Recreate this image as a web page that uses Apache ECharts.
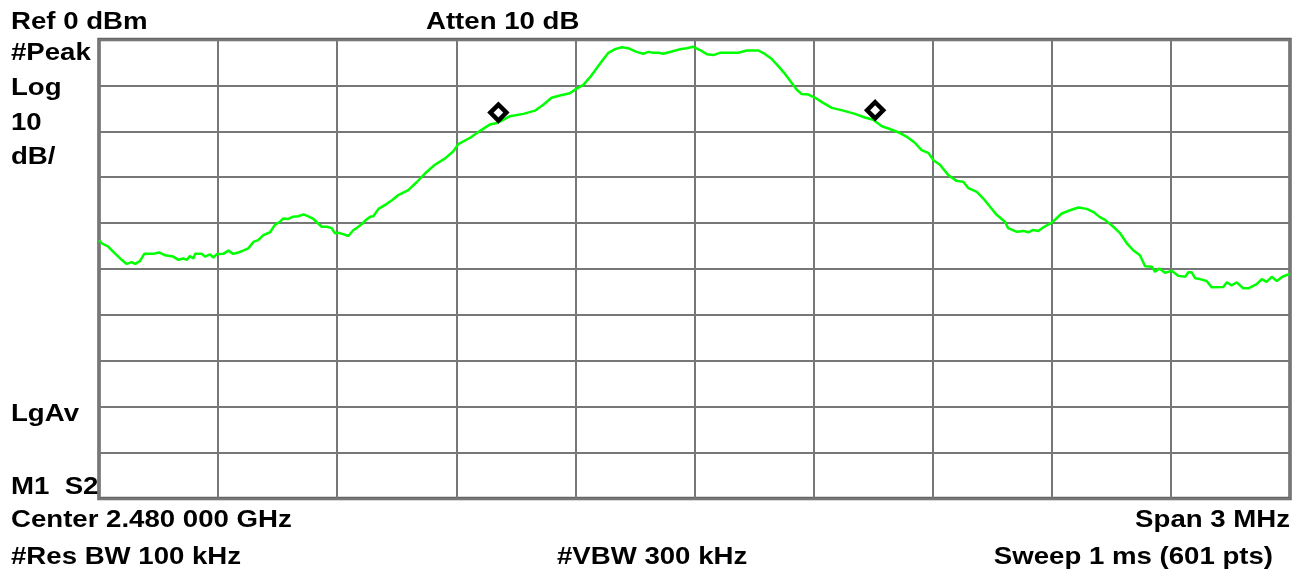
<!DOCTYPE html>
<html>
<head>
<meta charset="utf-8">
<script src="https://cdn.jsdelivr.net/npm/echarts@6/dist/echarts.min.js"></script>
<style>
  html, body { margin: 0; padding: 0; background: #fff; }
  #chart { width: 1305px; height: 578px; }
</style>
</head>
<body>
<div id="chart"></div>
<script>
// trace, offset from 2.480 GHz center in kHz
const freqKHz = [-1500,-1493,-1477,-1460,-1443,-1430,-1418,-1409,-1397,-1386,
  -1363,-1349,-1334,-1313,-1300,-1288,-1279,-1271,-1262,-1258,
  -1241,-1233,-1220,-1212,-1204,-1187,-1174,-1162,-1149,-1137,
  -1124,-1111,-1099,-1086,-1069,-1057,-1044,-1036,-1023,-1011,
  -998,-985,-974,-960,-939,-926,-914,-906,-897,-885,
  -872,-859,-851,-838,-830,-817,-809,-796,-775,-762,
  -746,-721,-700,-679,-654,-628,-608,-595,-565,-540,
  -515,-498,-482,-465,-431,-402,-381,-360,-339,-314,
  -297,-280,-263,-246,-234,-217,-200,-183,-167,-146,
  -129,-116,-104,-91,-79,-57,-36,-20,-3,14,
  31,47,64,110,132,161,178,194,211,228,
  245,257,270,287,304,324,346,375,404,429,
  450,472,492,513,535,555,572,589,602,618,
  639,660,677,690,711,727,744,761,782,790,
  812,828,841,853,866,879,900,925,946,967,
  988,1005,1021,1034,1055,1072,1089,1105,1122,1135,
  1152,1160,1171,1185,1202,1219,1236,1244,1252,1261,
  1273,1290,1303,1332,1341,1353,1366,1382,1395,1416,
  1429,1441,1454,1467,1479,1492,1500];

const levelDbm = [-43.7,-44.4,-45.1,-46.6,-48.0,-48.9,-48.5,-48.9,-48.3,-46.7,
  -46.7,-46.4,-47.0,-47.3,-48.0,-47.7,-48.0,-47.2,-47.7,-46.7,
  -46.7,-47.3,-46.8,-47.5,-46.8,-46.7,-46.0,-46.7,-46.4,-46.0,
  -45.5,-44.1,-43.7,-42.6,-42.0,-40.4,-39.7,-39.0,-39.1,-38.6,
  -38.5,-38.1,-38.5,-39.1,-40.8,-40.8,-41.1,-42.2,-42.1,-42.4,
  -42.8,-41.5,-41.1,-40.2,-39.5,-38.6,-38.5,-36.9,-35.8,-35.0,
  -33.9,-32.8,-31.1,-29.2,-27.3,-25.9,-24.4,-22.8,-21.4,-19.9,
  -18.5,-18.2,-17.5,-16.7,-16.2,-15.5,-14.2,-12.7,-12.2,-11.7,
  -10.7,-9.9,-8.2,-6.2,-4.8,-2.9,-2.1,-1.7,-1.9,-2.7,
  -3.1,-2.7,-2.9,-2.9,-3.1,-2.6,-2.1,-1.9,-1.6,-2.3,
  -3.2,-3.4,-2.9,-2.9,-2.4,-2.4,-3.2,-4.2,-5.8,-7.5,
  -9.5,-10.9,-11.9,-12.0,-12.7,-13.8,-14.9,-15.5,-16.2,-17.0,
  -17.5,-18.9,-19.5,-20.2,-21.2,-22.5,-24.1,-24.7,-26.3,-27.3,
  -29.5,-30.8,-31.0,-32.4,-33.2,-34.6,-36.4,-38.2,-39.7,-41.1,
  -41.9,-41.7,-42.0,-41.5,-41.7,-40.9,-39.9,-37.9,-37.2,-36.6,
  -36.9,-37.6,-38.7,-39.3,-40.8,-42.2,-44.4,-45.9,-47.0,-49.4,
  -49.5,-50.6,-49.9,-50.8,-50.4,-51.5,-51.7,-50.7,-50.7,-52.0,
  -52.2,-52.6,-54.0,-53.9,-52.9,-53.6,-52.9,-54.2,-54.2,-53.3,
  -52.2,-52.8,-51.7,-52.6,-51.8,-51.3,-51.1];

// marker diamonds (M1 / delta marker)
const markerFreqKHz = [-494, 455];
const markerLevelDbm = [-18.1, -17.6];

// screen annotations
const leftLabels = ["#Peak", "Log", "10", "dB/"];
const topLabels = ["Ref 0 dBm", "Atten 10 dB"];
const bottomLeft = ["Center 2.480 000 GHz", "#Res BW 100 kHz"];
const bottomRight = ["Span 3 MHz", "Sweep 1 ms (601 pts)"];

const FONT = '"Liberation Sans", Arial, Helvetica, sans-serif';
const SX = 1.15;

function txt(text, x, y, align) {
  return {
    type: "text",
    x: x,
    y: y,
    scaleX: SX,
    silent: true,
    style: {
      text: text,
      fontSize: 24,
      fontWeight: "bold",
      fontFamily: FONT,
      fill: "#000",
      align: align || "left",
      verticalAlign: "middle"
    }
  };
}

const chart = echarts.init(document.getElementById("chart"));

const graphics = [
  txt(topLabels[0], 11, 22),
  txt(topLabels[1], 426, 22),
  txt(leftLabels[0], 11, 53.5),
  txt(leftLabels[1], 11, 88.5),
  txt(leftLabels[2], 11, 123.5),
  txt(leftLabels[3], 11, 157.5),
  txt("LgAv", 11, 414.5),
  txt("M1  S2", 11, 487),
  txt(bottomLeft[0], 11, 520.5),
  txt(bottomLeft[1], 11, 557.5),
  txt("#VBW 300 kHz", 557, 557.5),
  txt(bottomRight[0], 1290, 520.5, "right"),
  txt(bottomRight[1], 1273, 557.5, "right")
];

chart.setOption({
  animation: false,
  backgroundColor: "#fff",
  grid: {
    left: 99, top: 39.5, right: 15, bottom: 79.5,
    show: true,
    borderColor: "#666",
    borderWidth: 3.5
  },
  xAxis: {
    type: "value",
    min: -1500, max: 1500, interval: 300,
    axisLine: { show: false },
    axisTick: { show: false },
    axisLabel: { show: false },
    splitLine: { show: true, lineStyle: { color: "#777", width: 2 } }
  },
  yAxis: {
    type: "value",
    min: -100, max: 0, interval: 10,
    axisLine: { show: false },
    axisTick: { show: false },
    axisLabel: { show: false },
    splitLine: { show: true, lineStyle: { color: "#777", width: 2 } }
  },
  series: [
    {
      type: "line",
      data: freqKHz.map((f, i) => [f, levelDbm[i]]),
      showSymbol: false,
      lineStyle: { color: "#00ff00", width: 2.5 },
      z: 3
    },
    {
      type: "scatter",
      data: markerFreqKHz.map((f, i) => [f, markerLevelDbm[i]]),
      symbol: "diamond",
      symbolSize: 16,
      symbolOffset: [0, -10],
      itemStyle: { color: "#fff", borderColor: "#000", borderWidth: 4.5, opacity: 1 },
      z: 5
    }
  ],
  graphic: graphics
});
</script>
</body>
</html>
